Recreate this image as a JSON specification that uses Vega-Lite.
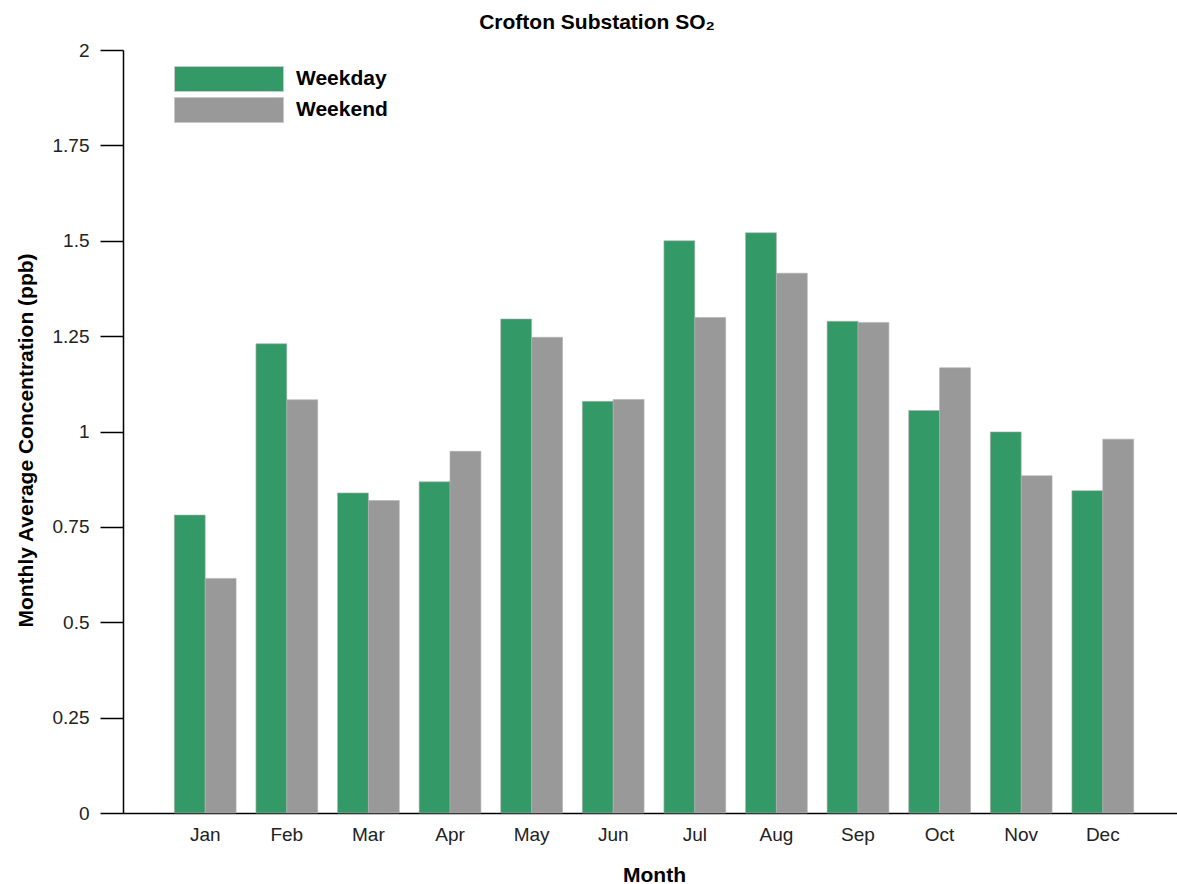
{
  "$schema": "https://vega.github.io/schema/vega-lite/v6.json",
  "autosize": "none",
  "width": 1062,
  "height": 763,
  "padding": {"left": 123, "top": 50, "right": 0, "bottom": 71},
  "background": "white",
  "title": {
    "text": "Crofton Substation SO₂",
    "font": "Liberation Sans",
    "fontSize": 21,
    "fontWeight": "bold",
    "color": "#000000",
    "anchor": "middle",
    "dx": -57,
    "offset": 8
  },
  "data": {
    "values": [
      {"month": "Jan", "type": "Weekday", "value": 0.781},
      {"month": "Jan", "type": "Weekend", "value": 0.615},
      {"month": "Feb", "type": "Weekday", "value": 1.230},
      {"month": "Feb", "type": "Weekend", "value": 1.083},
      {"month": "Mar", "type": "Weekday", "value": 0.839},
      {"month": "Mar", "type": "Weekend", "value": 0.819},
      {"month": "Apr", "type": "Weekday", "value": 0.868},
      {"month": "Apr", "type": "Weekend", "value": 0.948},
      {"month": "May", "type": "Weekday", "value": 1.295},
      {"month": "May", "type": "Weekend", "value": 1.247},
      {"month": "Jun", "type": "Weekday", "value": 1.079},
      {"month": "Jun", "type": "Weekend", "value": 1.084},
      {"month": "Jul", "type": "Weekday", "value": 1.500},
      {"month": "Jul", "type": "Weekend", "value": 1.299},
      {"month": "Aug", "type": "Weekday", "value": 1.521},
      {"month": "Aug", "type": "Weekend", "value": 1.415},
      {"month": "Sep", "type": "Weekday", "value": 1.289},
      {"month": "Sep", "type": "Weekend", "value": 1.286},
      {"month": "Oct", "type": "Weekday", "value": 1.055},
      {"month": "Oct", "type": "Weekend", "value": 1.167},
      {"month": "Nov", "type": "Weekday", "value": 0.999},
      {"month": "Nov", "type": "Weekend", "value": 0.884},
      {"month": "Dec", "type": "Weekday", "value": 0.845},
      {"month": "Dec", "type": "Weekend", "value": 0.980}
    ]
  },
  "mark": {"type": "bar", "stroke": "#b0b0b0", "strokeWidth": 0.6},
  "encoding": {
    "x": {
      "field": "month",
      "type": "nominal",
      "sort": ["Jan","Feb","Mar","Apr","May","Jun","Jul","Aug","Sep","Oct","Nov","Dec"],
      "scale": {"paddingInner": 0.243, "paddingOuter": 0.629},
      "axis": {
        "title": "Month",
        "titleFont": "Liberation Sans",
        "titleFontSize": 21,
        "titleFontWeight": "bold",
        "titleColor": "#000000",
        "titlePadding": 20,
        "labelFont": "Liberation Sans",
        "labelFontSize": 19,
        "labelColor": "#222222",
        "labelAngle": 0,
        "labelPadding": 12,
        "ticks": false,
        "domainColor": "#000000",
        "domainWidth": 1.5,
        "grid": false
      }
    },
    "xOffset": {"field": "type", "type": "nominal", "sort": ["Weekday", "Weekend"], "scale": {"paddingInner": 0, "paddingOuter": 0}},
    "y": {
      "field": "value",
      "type": "quantitative",
      "scale": {"domain": [0, 2], "nice": false},
      "axis": {
        "title": "Monthly Average Concentration (ppb)",
        "titleFont": "Liberation Sans",
        "titleFontSize": 21,
        "titleFontWeight": "bold",
        "titleColor": "#000000",
        "titlePadding": 16,
        "titleY": 390,
        "values": [0, 0.25, 0.5, 0.75, 1, 1.25, 1.5, 1.75, 2],
        "labelExpr": "'' + datum.value",
        "labelFont": "Liberation Sans",
        "labelFontSize": 19,
        "labelColor": "#222222",
        "labelPadding": 11,
        "tickSize": 23,
        "tickColor": "#000000",
        "tickWidth": 1.5,
        "domainColor": "#000000",
        "domainWidth": 1.5,
        "grid": false
      }
    },
    "color": {
      "field": "type",
      "type": "nominal",
      "scale": {"domain": ["Weekday", "Weekend"], "range": ["#339966", "#999999"]},
      "legend": {
        "title": null,
        "orient": "none",
        "legendX": 93,
        "legendY": 16,
        "padding": 0,
        "symbolType": "M-4.36,-1H4.36V1H-4.36Z",
        "symbolSize": 625,
        "symbolStrokeColor": "#c8c8c8",
        "symbolStrokeWidth": 1,
        "symbolOpacity": 1,
        "rowPadding": 1,
        "labelOffset": 54,
        "labelFont": "Liberation Sans",
        "labelFontSize": 21,
        "labelFontWeight": "bold",
        "labelColor": "#000000"
      }
    }
  },
  "config": {
    "view": {"stroke": null}
  }
}
